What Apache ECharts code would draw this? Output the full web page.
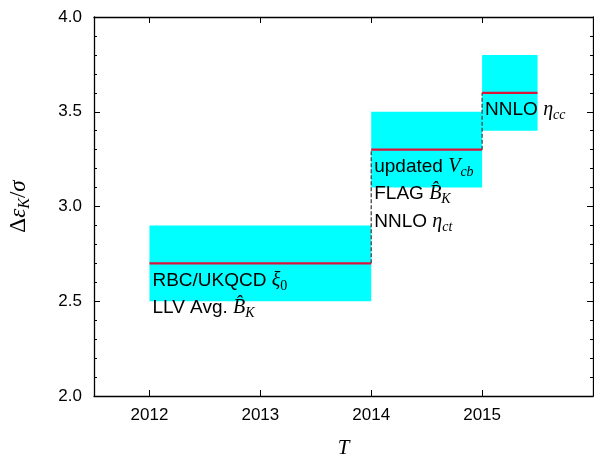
<!DOCTYPE html>
<html>
<head>
<meta charset="utf-8">
<script src="https://cdn.jsdelivr.net/npm/echarts@6/dist/echarts.min.js"></script>
<style>
html,body{margin:0;padding:0;background:#fff;}
#chart{width:594px;height:455px;}
</style>
</head>
<body>
<div id="chart"></div>
<script>
// ---- data ----
const boxStart = [2012, 2014, 2015];
const boxEnd = [2014, 2015, 2015.5];
const boxLow = [2.5, 3.1, 3.4];
const boxHigh = [2.9, 3.5, 3.8];
const central = [2.7, 3.3, 3.6];
const boxLabels = [
  ['RBC/UKQCD {m|ξ}{n|0}', 'LLV Avg. {m|B\u0302}{s|K}'],
  ['updated {m|V}{s|cb}', 'FLAG {m|B\u0302}{s|K}', 'NNLO {m|η}{s|ct}'],
  ['NNLO {m|η}{s|cc}']
];
const xTicks = [2012, 2013, 2014, 2015];
const xRange = [2011.5, 2016];
const yRange = [2.0, 4.0];
const yStep = 0.5;

// ---- chart ----
const chart = echarts.init(document.getElementById('chart'), null, {renderer: 'canvas'});

const SANS = 'Liberation Sans';
const SERIF = 'Liberation Serif';
const richStyles = {
  m: {fontFamily: SERIF, fontStyle: 'italic', fontSize: 20, verticalAlign: 'middle', fill: '#000'},
  s: {fontFamily: SERIF, fontStyle: 'italic', fontSize: 14, lineHeight: 14, verticalAlign: 'bottom', fill: '#000'},
  n: {fontFamily: SERIF, fontSize: 14, lineHeight: 14, verticalAlign: 'bottom', fill: '#000'}
};

const axisLineStyle = {color: '#000', width: 1.3};

const boxData = boxStart.map((s, i) => [s, boxLow[i], boxEnd[i], boxHigh[i], central[i]]);

function renderBox(params, api) {
  const i = params.dataIndex;
  const p0 = api.coord([api.value(0), api.value(3)]);
  const p1 = api.coord([api.value(2), api.value(1)]);
  const c0 = api.coord([api.value(0), api.value(4)]);
  const c1 = api.coord([api.value(2), api.value(4)]);
  const children = [{
    type: 'rect',
    shape: {x: p0[0], y: p0[1], width: p1[0] - p0[0], height: p1[1] - p0[1]},
    style: {fill: '#00ffff'}
  }];
  if (i > 0) {
    const prev = api.coord([api.value(0), central[i - 1]]);
    children.push({
      type: 'line',
      shape: {x1: prev[0], y1: prev[1], x2: c0[0], y2: c0[1]},
      style: {stroke: '#444', lineWidth: 1.3, lineDash: [4, 2]}
    });
  }
  children.push({
    type: 'line',
    shape: {x1: c0[0], y1: c0[1], x2: c1[0], y2: c1[1]},
    style: {stroke: '#dc143c', lineWidth: 2.2}
  });
  boxLabels[i].forEach((t, k) => {
    children.push({
      type: 'text',
      style: {
        text: t,
        x: c0[0] + 3,
        y: c0[1] + 17 + k * 27.5,
        fontFamily: SANS,
        fontSize: 19,
        lineHeight: 25,
        fill: '#000',
        align: 'left',
        verticalAlign: 'middle',
        rich: richStyles
      }
    });
  });
  return {type: 'group', children: children};
}

const option = {
  animation: false,
  backgroundColor: '#fff',
  grid: {left: 94, right: 1, top: 17, bottom: 59, containLabel: false, outerBoundsMode: 'none'},
  xAxis: [{
    type: 'value', min: xRange[0], max: xRange[1], position: 'bottom',
    axisLine: {show: true, onZero: false, lineStyle: axisLineStyle},
    axisTick: {show: true, inside: true, length: 6, customValues: xTicks, lineStyle: {color: '#000', width: 1}},
    axisLabel: {customValues: xTicks, margin: 11, fontFamily: SANS, fontSize: 17, color: '#000', formatter: v => String(v)},
    splitLine: {show: false},
    name: 'T', nameLocation: 'middle', nameGap: 42,
    nameTextStyle: {fontFamily: SERIF, fontStyle: 'italic', fontSize: 21, color: '#000'}
  }, {
    type: 'value', min: xRange[0], max: xRange[1], position: 'top',
    axisLine: {show: true, onZero: false, lineStyle: axisLineStyle},
    axisTick: {show: true, inside: true, length: 6, customValues: xTicks, lineStyle: {color: '#000', width: 1}},
    axisLabel: {show: false},
    splitLine: {show: false}
  }],
  yAxis: [{
    type: 'value', min: yRange[0], max: yRange[1], interval: yStep, position: 'left',
    axisLine: {show: true, onZero: false, lineStyle: axisLineStyle},
    axisTick: {show: true, inside: true, length: 6, lineStyle: {color: '#000', width: 1}},
    minorTick: {show: true, splitNumber: 5, length: 3, lineStyle: {color: '#000', width: 1}},
    axisLabel: {margin: 12, fontFamily: SANS, fontSize: 17, color: '#000', formatter: v => v.toFixed(1)},
    splitLine: {show: false},
    name: '{d|Δ}{e|ε}{k|K}{d|/}{e|σ}', nameLocation: 'middle', nameGap: 61, nameRotate: 90,
    nameTextStyle: {
      color: '#000',
      rich: {
        d: {fontFamily: SERIF, fontSize: 23, lineHeight: 28, verticalAlign: 'middle', color: '#000'},
        e: {fontFamily: SERIF, fontStyle: 'italic', fontSize: 23, lineHeight: 28, verticalAlign: 'middle', color: '#000'},
        k: {fontFamily: SERIF, fontStyle: 'italic', fontSize: 16, lineHeight: 16, verticalAlign: 'bottom', color: '#000'}
      }
    }
  }, {
    type: 'value', min: yRange[0], max: yRange[1], interval: yStep, position: 'right',
    axisLine: {show: true, onZero: false, lineStyle: axisLineStyle},
    axisTick: {show: true, inside: true, length: 6, lineStyle: {color: '#000', width: 1}},
    minorTick: {show: true, splitNumber: 5, length: 3, lineStyle: {color: '#000', width: 1}},
    axisLabel: {show: false},
    splitLine: {show: false}
  }],
  series: [{
    type: 'custom',
    xAxisIndex: 0, yAxisIndex: 0,
    renderItem: renderBox,
    encode: {x: [0, 2], y: [1, 3, 4]},
    data: boxData,
    clip: false
  }]
};
chart.setOption(option);
</script>
</body>
</html>
